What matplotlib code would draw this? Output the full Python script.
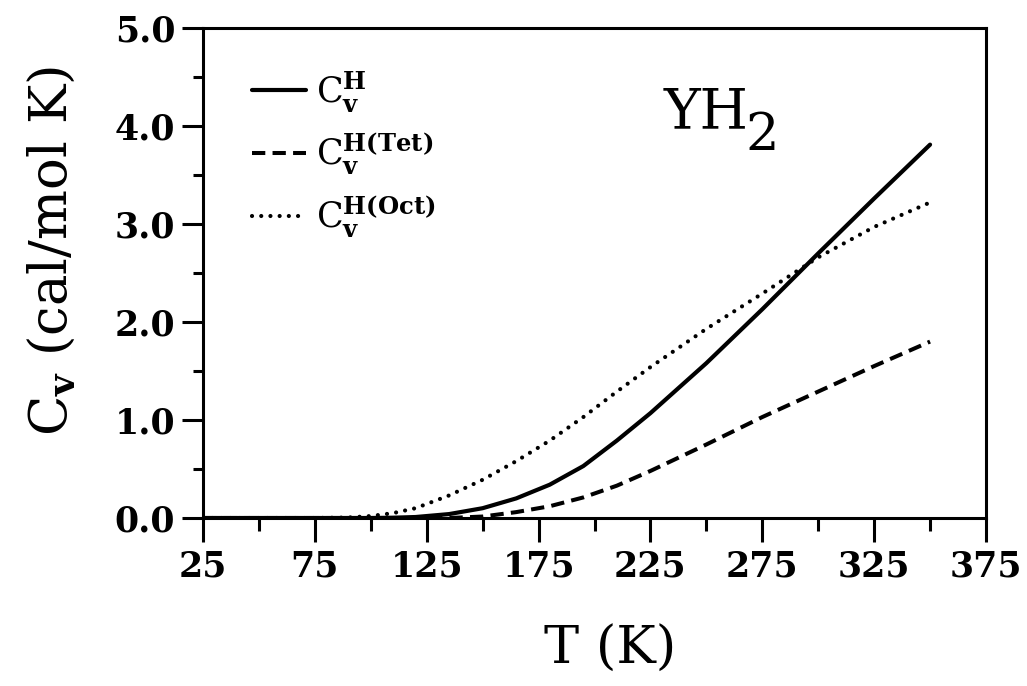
import matplotlib
matplotlib.use("Agg")
import matplotlib.pyplot as plt
from matplotlib.ticker import MultipleLocator

# Data
T = [25, 50, 75, 90, 100, 110, 120, 135, 150, 165, 180, 195, 210, 225, 250, 275, 300, 325, 350]
cv_h = [0, 0, 0, 0, 0, 0.003, 0.01, 0.04, 0.10, 0.20, 0.34, 0.53, 0.79, 1.07, 1.58, 2.13, 2.70, 3.26, 3.81]
cv_tet = [0, 0, 0, 0, 0, 0, 0, 0, 0.015, 0.06, 0.12, 0.21, 0.33, 0.48, 0.75, 1.03, 1.29, 1.55, 1.80]
cv_oct = [0, 0, 0, 0.005, 0.02, 0.05, 0.10, 0.23, 0.39, 0.58, 0.79, 1.03, 1.29, 1.54, 1.93, 2.29, 2.66, 2.97, 3.22]

xticks = [25, 75, 125, 175, 225, 275, 325, 375]
yticks = [0.0, 1.0, 2.0, 3.0, 4.0, 5.0]

plt.rcParams['mathtext.fontset'] = 'dejavuserif'
plt.rcParams['font.family'] = ['DejaVu Serif']

W, H = 1027, 686
fig = plt.figure(figsize=(W / 100, H / 100), dpi=100)
left, right, top, bottom = 203, 986, 28, 518
ax = fig.add_axes([left / W, (H - bottom) / H, (right - left) / W, (bottom - top) / H])

ax.plot(T, cv_h, color='black', lw=3.0, solid_capstyle='round', solid_joinstyle='round',
        label=r'$\mathrm{C}_{\mathbf{v}}^{\mathbf{H}}$')
ax.plot(T, cv_tet, color='black', lw=2.9, dashes=(3.3, 1.8),
        label=r'$\mathrm{C}_{\mathbf{v}}^{\mathbf{H(Tet)}}$')
ax.plot(T, cv_oct, color='black', lw=3.0, dashes=(0.01, 2.2), dash_capstyle='round',
        label=r'$\mathrm{C}_{\mathbf{v}}^{\mathbf{H(Oct)}}$')

ax.set_xlim(25, 375)
ax.set_ylim(0, 5.0)
ax.set_xticks(xticks)
ax.set_xticklabels([str(v) for v in xticks])
ax.set_yticks(yticks)
ax.set_yticklabels([f'{v:.1f}' for v in yticks])
ax.xaxis.set_minor_locator(MultipleLocator(25))
ax.yaxis.set_minor_locator(MultipleLocator(0.5))

for s in ax.spines.values():
    s.set_linewidth(2.2)
ax.tick_params(which='major', direction='out', length=17, width=2.2, labelsize=25, pad=6)
ax.tick_params(which='minor', direction='out', length=9, width=2.2)
ax.tick_params(axis='y', which='major', length=15, pad=5)
ax.tick_params(axis='y', which='minor', length=7)
for lab in ax.get_xticklabels() + ax.get_yticklabels():
    lab.set_fontweight('bold')

ax.set_xlabel('T (K)', fontsize=38, labelpad=30)
ax.xaxis.set_label_coords(0.52, -0.215)
ax.set_ylabel(r'$\mathrm{C}_{\mathbf{v}}$ (cal/mol K)', fontsize=38)
ax.yaxis.set_label_coords(-0.16, 0.545)

ax.text(0.588, 0.796, 'YH', transform=ax.transAxes, fontsize=40, va='baseline', ha='left')
ax.text(0.693, 0.752, '2', transform=ax.transAxes, fontsize=38, va='baseline', ha='left')

ax.legend(loc='upper left', bbox_to_anchor=(0.045, 0.945), frameon=False, fontsize=25,
          handlelength=1.55, handletextpad=0.3, labelspacing=0.48, borderaxespad=0)

fig.savefig('out.png', dpi=100)
